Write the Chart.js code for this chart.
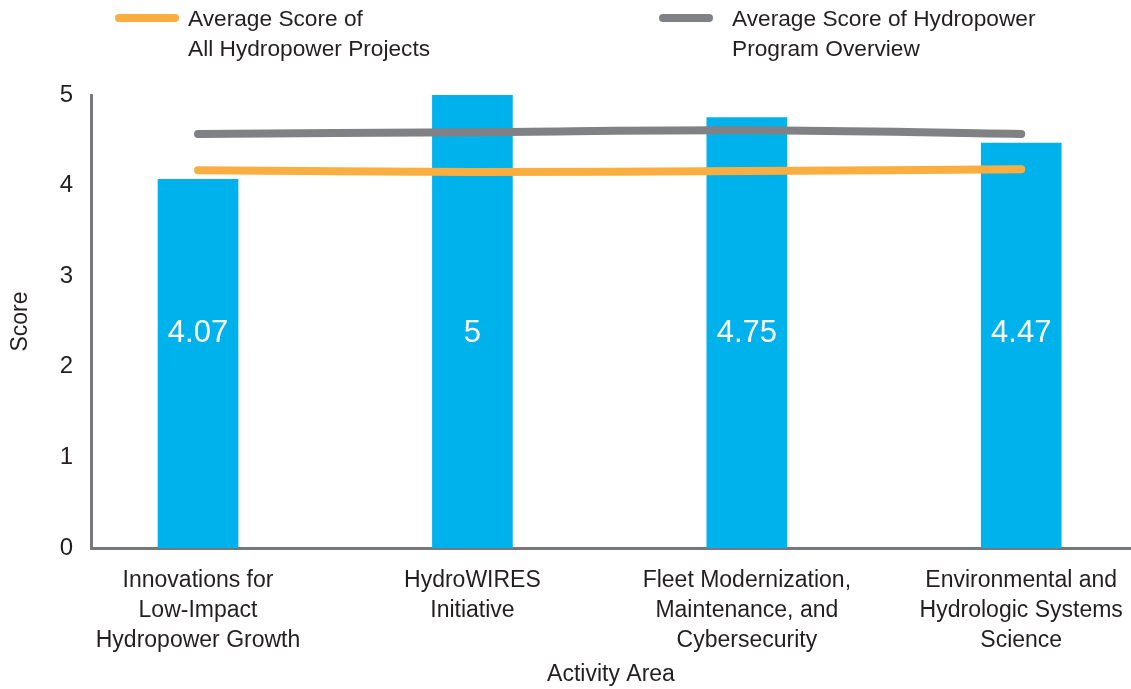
<!DOCTYPE html>
<html>
<head>
<meta charset="utf-8">
<script src="https://cdn.jsdelivr.net/npm/chart.js@4.4.1/dist/chart.umd.min.js"></script>
<style>
  html, body { margin: 0; padding: 0; background: #fff; }
  #wrap { position: relative; width: 1131px; height: 689px; overflow: hidden; font-family: "Liberation Sans", Arial, sans-serif; color: #231f20; }
  #chart { position: absolute; left: 0; top: 0; }
  .leg { position: absolute; font-size: 22.7px; line-height: 30px; color: #231f20; white-space: nowrap; }
  .sw { position: absolute; height: 8px; border-radius: 4px; }
</style>
</head>
<body>
<div id="wrap">
  <canvas id="chart" width="1131" height="689"></canvas>
  <div class="sw" id="sw0" style="left:115px; top:14px; width:64px; background:#fbae40;"></div>
  <div class="leg" id="lg0" style="left:188px; top:3px;"></div>
  <div class="sw" id="sw1" style="left:659px; top:14px; width:54px; background:#808184;"></div>
  <div class="leg" id="lg1" style="left:732px; top:3px;"></div>
</div>
<script>
const categories = [
  ["Innovations for", "Low-Impact", "Hydropower Growth"],
  ["HydroWIRES", "Initiative"],
  ["Fleet Modernization,", "Maintenance, and", "Cybersecurity"],
  ["Environmental and", "Hydrologic Systems", "Science"]
];
const activityScores = [4.07, 5, 4.75, 4.47];
const avgAllProjects = [4.17, 4.15, 4.16, 4.18];
const avgProgramOverview = [4.57, 4.59, 4.61, 4.57];
const seriesNames = [["Average Score of", "All Hydropower Projects"], ["Average Score of Hydropower", "Program Overview"]];
const yTicks = [0, 1, 2, 3, 4, 5];

document.getElementById('lg0').innerHTML = seriesNames[0].join('<br>');
document.getElementById('lg1').innerHTML = seriesNames[1].join('<br>');

const FONT = '"Liberation Sans", Arial, sans-serif';
const toXY = arr => arr.map((v, i) => ({ x: i, y: v }));

const barLabels = {
  id: 'barLabels',
  afterDatasetsDraw(chart) {
    const { ctx, scales: { y } } = chart;
    const meta = chart.getDatasetMeta(2);
    ctx.save();
    ctx.fillStyle = '#ffffff';
    ctx.font = '31px ' + FONT;
    ctx.textAlign = 'center';
    ctx.textBaseline = 'middle';
    const yPos = y.getPixelForValue(2.37);
    meta.data.forEach((el, i) => {
      ctx.fillText(String(activityScores[i]), el.x, yPos);
    });
    ctx.restore();
  }
};

new Chart(document.getElementById('chart'), {
  data: {
    datasets: [
      {
        type: 'line', label: seriesNames[0].join(' '), data: toXY(avgAllProjects),
        borderColor: '#fbae40', borderWidth: 8, borderCapStyle: 'round', borderJoinStyle: 'round',
        tension: 0.4, pointRadius: 0, fill: false, order: 0
      },
      {
        type: 'line', label: seriesNames[1].join(' '), data: toXY(avgProgramOverview),
        borderColor: '#808184', borderWidth: 8, borderCapStyle: 'round', borderJoinStyle: 'round',
        tension: 0.4, pointRadius: 0, fill: false, order: 0
      },
      {
        type: 'bar', label: 'Score', data: toXY(activityScores),
        backgroundColor: '#00b2ec', barThickness: 80, order: 1
      }
    ]
  },
  options: {
    responsive: false,
    animation: false,
    layout: { padding: { top: 95, right: 0, left: 0, bottom: 0 } },
    plugins: { legend: { display: false }, tooltip: { enabled: false } },
    scales: {
      x: {
        type: 'linear', min: -0.39, max: 3.4, offset: false,
        afterBuildTicks: s => { s.ticks = categories.map((c, i) => ({ value: i })); },
        afterFit: s => { s.height = 141; s.paddingLeft = 0; s.paddingRight = 0; },
        grid: { display: false, drawTicks: false, offset: false },
        border: { color: '#77787b', width: 3 },
        ticks: {
          autoSkip: false, maxRotation: 0, padding: 18,
          color: '#231f20', font: { family: FONT, size: 23, lineHeight: 1.3 },
          callback: v => categories[v]
        },
        title: { display: true, text: 'Activity Area', color: '#231f20', font: { family: FONT, size: 23 }, padding: { top: 4, bottom: 1 } }
      },
      y: {
        min: 0, max: 5,
        afterBuildTicks: s => { s.ticks = yTicks.map(v => ({ value: v })); },
        afterFit: s => { s.width = 91; s.paddingTop = 0; s.paddingBottom = 0; },
        grid: { display: false, drawTicks: false },
        border: { color: '#77787b', width: 3 },
        ticks: { padding: 18, color: '#231f20', font: { family: FONT, size: 24 } },
        title: { display: true, text: 'Score', color: '#231f20', font: { family: FONT, size: 23 }, padding: { top: 7, bottom: 0 } }
      }
    }
  },
  plugins: [barLabels]
});
</script>
</body>
</html>
